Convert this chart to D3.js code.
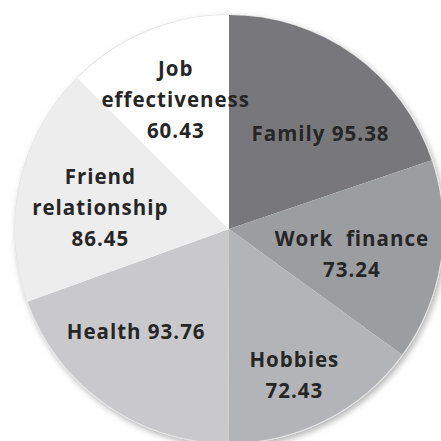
<!DOCTYPE html>
<html>
<head>
<meta charset="utf-8">
<script src="https://cdn.jsdelivr.net/npm/d3@7"></script>
<style>
  html, body { margin: 0; padding: 0; background: #fff; }
  svg { display: block; }
</style>
</head>
<body>
<div id="chart"></div>
<script>
const categorias = ["Family", "Work finance", "Hobbies", "Health", "Friend relationship", "Job effectiveness"];
const valores = [95.38, 73.24, 72.43, 93.76, 86.45, 60.43];
const colores = ["#78787c", "#9c9da1", "#b3b4b7", "#c9c9cc", "#ededee", "#ffffff"];
// label lines for each slice (value is appended from valores)
const lineas = [["Family {v}"], ["Work  finance", "{v}"], ["Hobbies", "{v}"], ["Health {v}"], ["Friend", "relationship", "{v}"], ["Job", "effectiveness", "{v}"]];

const width = 441, height = 441;
const cx = 229, cy = 229, radio = 214;
// label radius and nudges per slice (angle offset in degrees, radius)
const ajuste = [{ a: 8, r: 132 }, { a: 3, r: 125 }, { a: 3, r: 160 }, { a: 7, r: 139 }, { a: -3, r: 131 }, { a: 0, r: 140 }];

const svg = d3.select("#chart").append("svg").attr("width", width).attr("height", height);
const defs = svg.append("defs");
const f = defs.append("filter").attr("id", "sombra").attr("x", "-10%").attr("y", "-10%").attr("width", "120%").attr("height", "120%");
f.append("feDropShadow").attr("dx", 2).attr("dy", 3).attr("stdDeviation", 3).attr("flood-color", "#000").attr("flood-opacity", 0.3);

const pie = d3.pie().sort(null).value((d) => d)(valores);
const arc = d3.arc().innerRadius(0).outerRadius(radio);

const g = svg.append("g").attr("transform", `translate(${cx},${cy})`);
g.append("circle").attr("r", radio).attr("fill", "#fff").attr("stroke", "#e4e4e4").attr("stroke-width", 1.5).attr("filter", "url(#sombra)");

g.selectAll("path.slice").data(pie).join("path").attr("class", "slice").attr("d", arc).attr("fill", (d, i) => colores[i]);

const fs = 20.5, lh = 31, sp = 1;
pie.forEach((d, i) => {
  const ang = (d.startAngle + d.endAngle) / 2 + (ajuste[i].a * Math.PI) / 180;
  const x = Math.sin(ang) * ajuste[i].r + sp / 2;
  const y = -Math.cos(ang) * ajuste[i].r;
  const ls = lineas[i].map((t) => t.replace("{v}", valores[i].toFixed(2)));
  const t = g.append("text").attr("text-anchor", "middle").attr("font-family", "'Open Sans', sans-serif").attr("font-weight", "bold").attr("font-size", fs).attr("letter-spacing", sp).attr("fill", "#262626");
  const y0 = y - ((ls.length - 1) * lh) / 2 + fs * 0.36;
  ls.forEach((s, k) => {
    t.append("tspan").attr("x", x).attr("y", y0 + k * lh).attr("xml:space", "preserve").text(s);
  });
});
</script>
</body>
</html>
